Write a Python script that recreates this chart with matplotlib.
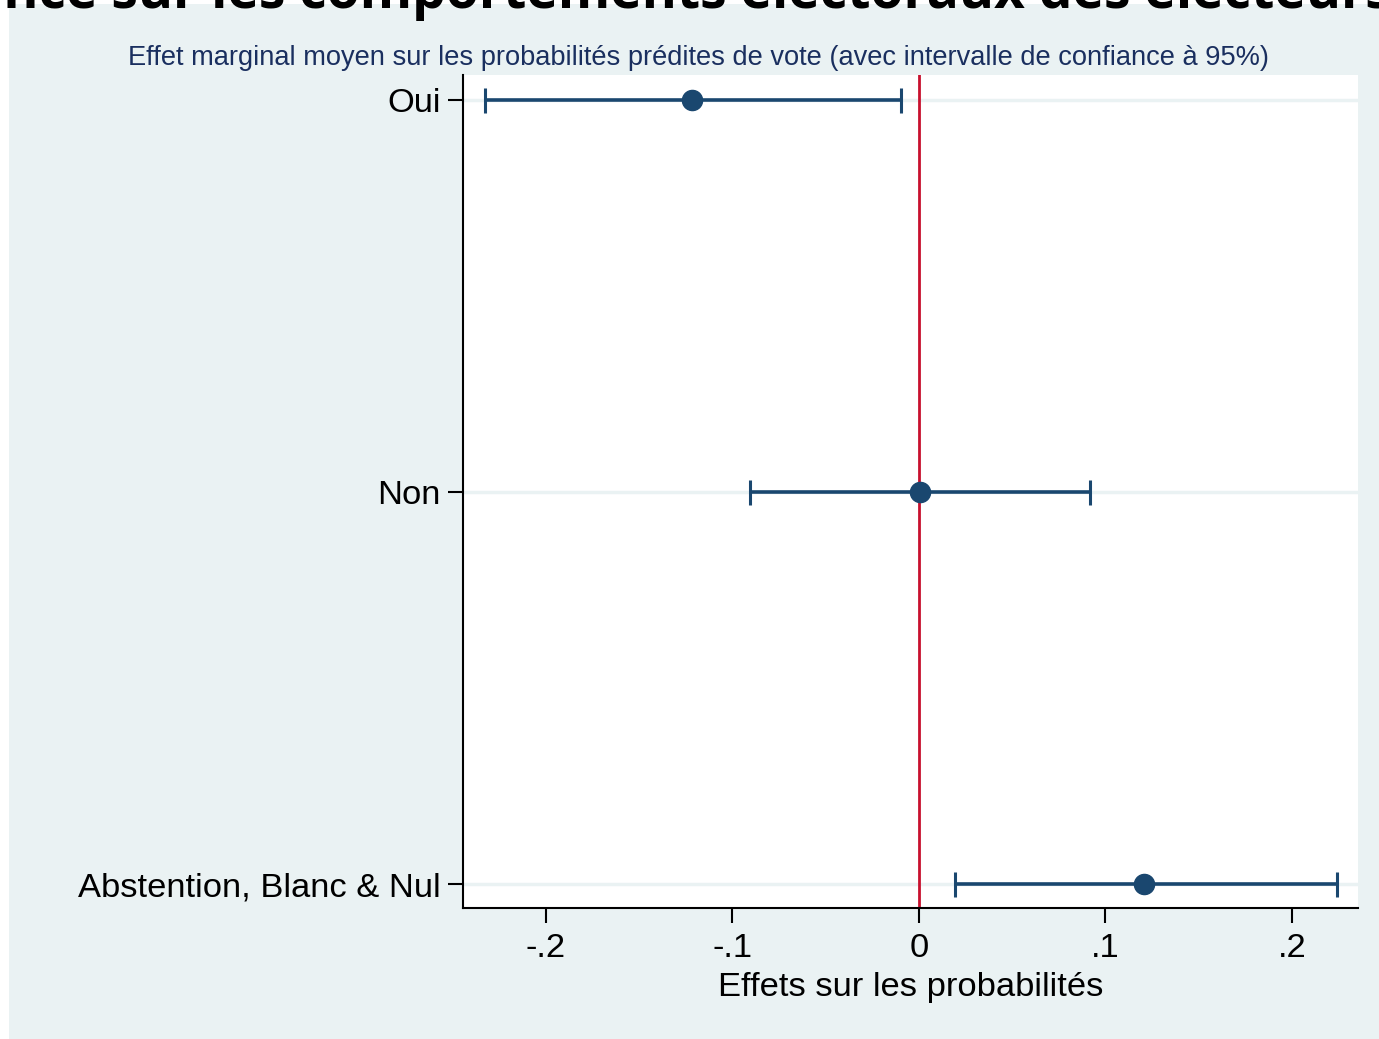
import matplotlib
matplotlib.use("Agg")
import matplotlib.pyplot as plt
from matplotlib.patches import Rectangle

categories = ["Oui", "Non", "Abstention, Blanc & Nul"]
estimates = [-0.1217, 0.0005, 0.1206]
ci_low = [-0.2327, -0.0906, 0.0193]
ci_high = [-0.0097, 0.0917, 0.2241]
xticks = [-0.2, -0.1, 0.0, 0.1, 0.2]
xtick_labels = ["-.2", "-.1", "0", ".1", ".2"]

title_text = "Influence sur les comportements électoraux des électeurs"
subtitle_text = "Effet marginal moyen sur les probabilités prédites de vote (avec intervalle de confiance à 95%)"
xlabel_text = "Effets sur les probabilités"

W, H = 1379, 1039
fig = plt.figure(figsize=(W / 100, H / 100), dpi=100, facecolor="white")
panel_col = "#eaf2f3"
navy = "#1a476f"

fig.patches.append(Rectangle((9 / W, 0), 1 - 9 / W, 1 - 4 / H, transform=fig.transFigure,
                             facecolor=panel_col, edgecolor="none", zorder=-10))

ax = fig.add_axes([463 / W, 1 - 908 / H, (1358 - 463) / W, (908 - 75) / H])
ax.set_facecolor("white")
ypos = list(range(len(categories)))
ax.set_ylim(len(categories) - 1 + 0.061, -0.064)
ax.set_xlim(-0.2445, 0.2354)

for y in ypos:
    ax.axhline(y, color=panel_col, lw=2.5, zorder=1)
ax.axvline(0, color="#c8102e", lw=2.0, zorder=2)

xerr = [[e - l for e, l in zip(estimates, ci_low)], [h - e for e, h in zip(estimates, ci_high)]]
ax.errorbar(estimates, ypos, xerr=xerr, fmt="o", color=navy, ecolor=navy, elinewidth=2.6,
            capsize=9, capthick=2.2, markersize=14.5, zorder=3)

ax.set_yticks(ypos)
ax.set_yticklabels(categories, fontsize=24.8, family="Liberation Sans")
ax.set_xticks(xticks)
ax.set_xticklabels(xtick_labels, fontsize=24.8, family="Liberation Sans")
ax.tick_params(axis="both", direction="out", length=11, width=1.5, color="black")
ax.tick_params(axis="y", pad=5)
ax.tick_params(axis="x", pad=7)
for s in ["top", "right"]:
    ax.spines[s].set_visible(False)
for s in ["left", "bottom"]:
    ax.spines[s].set_linewidth(1.5)
    ax.spines[s].set_color("black")

ax.set_xlabel(xlabel_text, fontsize=24.8, family="Liberation Sans", labelpad=6)

fig.text(699 / W, 1 - 58 / H, subtitle_text, ha="center", va="center", fontsize=19.6,
         color="#1a2f5f", family="Liberation Sans")
fig.text(1392 / W, 1 - 8 / H, title_text, ha="right", va="baseline", fontsize=38.5,
         fontweight="bold", family="Open Sans", color="black")

fig.savefig("out.png", dpi=100, facecolor="white")
